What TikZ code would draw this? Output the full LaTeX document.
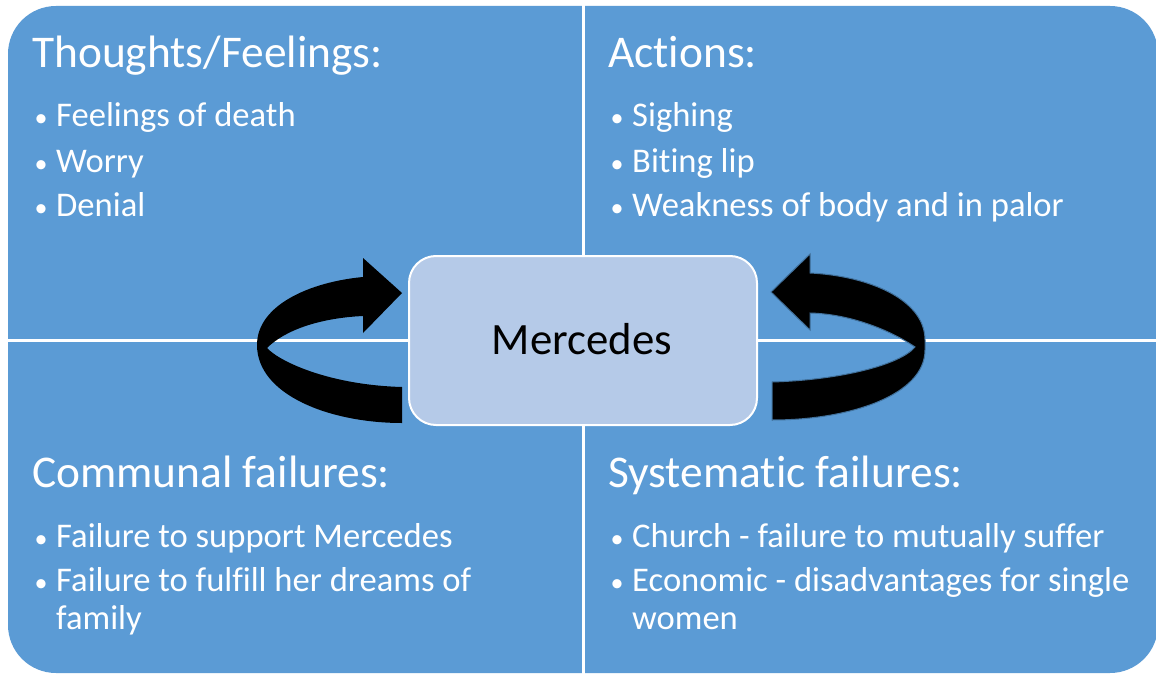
\documentclass[tikz,border=0pt]{standalone}
\usepackage{fontspec}
\setmainfont{Carlito}[Ligatures={NoCommon}]
\definecolor{quadblue}{HTML}{5B9BD5}
\definecolor{hubfill}{HTML}{B5CAE8}
\definecolor{arrowedge}{HTML}{41719C}
\begin{document}
\begin{tikzpicture}[x=1pt,y=-1pt,
  title/.style={anchor=base west,inner sep=0pt,text=white,font=\fontsize{45.4}{50}\selectfont},
  item/.style={anchor=base west,inner sep=0pt,text=white,font=\fontsize{34.6}{40}\selectfont},
  dot/.style={anchor=base,inner sep=0pt,text=white,font=\fontsize{26}{30}\selectfont},
  hub/.style={draw=white,line width=2pt,fill=hubfill,rounded corners=27pt},
  divider/.style={draw=white,line width=3pt},
  turnarrow/.style={fill=black}]
\fill[white] (0,0) rectangle (1156,674);
\useasboundingbox (0,0) rectangle (1156,674);

% matrix background with rounded outer corners
\fill[quadblue,rounded corners=48pt] (8,6) rectangle (1158,673);
\draw[divider] (583,0) -- (583,674);
\draw[divider] (0,340) -- (1158,340);

% top left quadrant
\node[title] (tl) at (32,68) {Thoughts/Feelings:};
\node[dot] (tlb1) at (41,127) {•};
\node[item] (tl1) at (56,127) {Feelings of death};
\node[dot] (tlb2) at (41,172) {•};
\node[item] (tl2) at (56,172) {Worry};
\node[dot] (tlb3) at (41,216) {•};
\node[item] (tl3) at (56,216) {Denial};

% top right quadrant
\node[title] (tr) at (608,68) {Actions:};
\node[dot] (trb1) at (617,127) {•};
\node[item] (tr1) at (632,127) {Sighing};
\node[dot] (trb2) at (617,172) {•};
\node[item] (tr2) at (632,172) {Biting lip};
\node[dot] (trb3) at (617,216) {•};
\node[item] (tr3) at (632,216) {Weakness of body and in palor};

% bottom left quadrant
\node[title] (bl) at (32,487) {Communal failures:};
\node[dot] (blb1) at (41,547) {•};
\node[item] (bl1) at (56,547) {Failure to support Mercedes};
\node[dot] (blb2) at (41,591) {•};
\node[item] (bl2) at (56,591) {Failure to fulfill her dreams of};
\node[item] (bl2b) at (56,629) {family};

% bottom right quadrant
\node[title] (br) at (608,487) {Systematic failures:};
\node[dot] (brb1) at (617,547) {•};
\node[item] (br1) at (632,547) {Church - failure to mutually suffer};
\node[dot] (brb2) at (617,591) {•};
\node[item] (br2) at (632,591) {Economic - disadvantages for single};
\node[item] (br2b) at (632,629) {women};

% central hub
\draw[hub] (409,256) rectangle (757,425);
\node[anchor=base,inner sep=0pt,font=\fontsize{44.8}{50}\selectfont] (hubtext) at (582,354) {Mercedes};

% left circular arrow
\path[turnarrow] (402,293) -- (363,258) -- (363,277)
  .. controls (310,282) and (257,305) .. (257,345)
  .. controls (257,395) and (330,423) .. (402,423)
  -- (402,387)
  .. controls (330,385) and (280,362) .. (267,348)
  .. controls (285,330) and (320,318) .. (363,316)
  -- (363,333) -- cycle;

% right circular arrow
\path[turnarrow,draw=arrowedge,line width=1pt] (771,292) -- (810,254) -- (810,273)
  .. controls (870,276) and (925,300) .. (925,340)
  -- (925,350)
  .. controls (925,395) and (850,420) .. (772,420)
  -- (772,382)
  .. controls (840,380) and (900,365) .. (915,347)
  .. controls (890,330) and (850,314) .. (810,313)
  -- (810,330) -- cycle;
\end{tikzpicture}
\end{document}
